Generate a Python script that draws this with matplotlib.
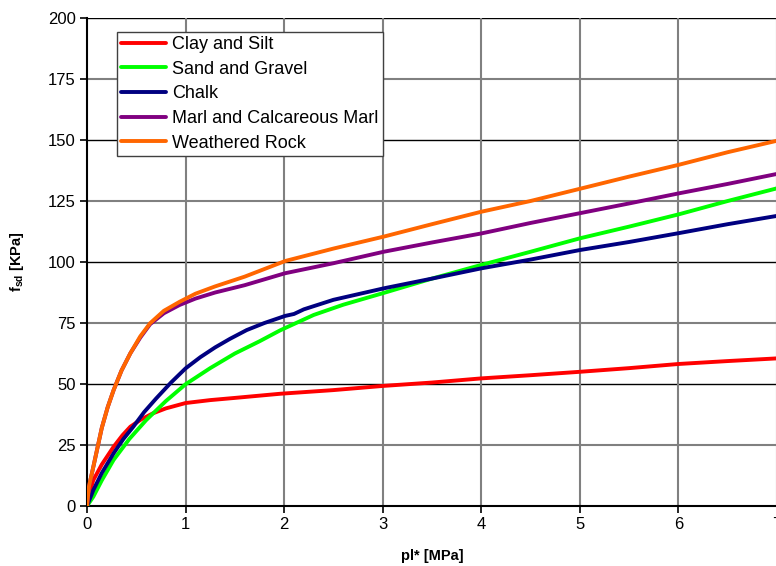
import matplotlib
matplotlib.use("Agg")
import matplotlib.pyplot as plt

plt.rcParams['font.family'] = ['Liberation Sans', 'DejaVu Sans']

labels = ["Clay and Silt", "Sand and Gravel", "Chalk",
          "Marl and Calcareous Marl", "Weathered Rock"]
colors = ["#FF0000", "#00FF00", "#000080", "#800080", "#FF6600"]

clay_x = [0, 0.03, 0.064, 0.15, 0.27, 0.36, 0.44, 0.55, 0.67, 0.8, 1.0, 1.25,
          1.5, 1.96, 2.5, 3.0, 3.5, 4.0, 4.5, 5.0, 5.5, 6.0, 6.5, 7.0]
clay_y = [0, 6, 10.6, 17, 24.3, 29, 32.5, 35.5, 38, 40, 42.2, 43.4,
          44.3, 46.0, 47.5, 49.2, 50.6, 52.3, 53.6, 55.0, 56.5, 58.2, 59.4, 60.5]

sand_x = [0, 0.064, 0.15, 0.27, 0.43, 0.6, 0.8, 1.0, 1.25, 1.5, 1.75, 1.96,
          2.3, 2.6, 3.0, 3.5, 4.0, 4.5, 5.0, 5.5, 6.0, 6.5, 7.0]
sand_y = [0, 3.8, 10.5, 18.9, 27.5, 35.2, 43, 49.9, 56.5, 62.5, 67.5, 72,
          78.3, 82.5, 87.2, 93.2, 98.8, 104.2, 109.7, 114.5, 119.5, 125, 130.2]

chalk_x = [0, 0.064, 0.15, 0.27, 0.37, 0.47, 0.58, 0.7, 0.85, 1.0, 1.15, 1.3,
           1.45, 1.62, 1.8, 2.01, 2.1, 2.2, 2.5, 3.01, 3.5, 4.0, 4.5, 5.0,
           5.5, 6.0, 6.5, 7.0]
chalk_y = [0, 6.5, 13.5, 21.6, 27.5, 32.5, 38.5, 44, 50.5, 56.4, 61, 65,
           68.5, 72.1, 75, 77.9, 78.7, 80.6, 84.5, 89.2, 93.2, 97.4, 101, 104.9,
           108.2, 111.8, 115.5, 118.9]

marl_x = [0, 0.02, 0.064, 0.15, 0.21, 0.27, 0.35, 0.44, 0.54, 0.64, 0.78, 0.94,
          1.1, 1.3, 1.6, 2.01, 2.5, 3.01, 3.5, 4.0, 4.5, 5.0, 5.5, 6.0, 6.5, 7.0]
marl_y = [0, 8, 16, 32, 40.5, 47.5, 55.5, 62.6, 69, 74.5, 79, 82.4,
          85, 87.5, 90.5, 95.4, 99.5, 104.2, 108, 111.7, 116, 120, 124, 128.1,
          132, 136.1]

rock_x = [0, 0.02, 0.064, 0.15, 0.21, 0.27, 0.35, 0.44, 0.54, 0.64, 0.78, 0.94,
          1.1, 1.3, 1.6, 2.01, 2.5, 3.01, 3.5, 4.0, 4.5, 5.0, 5.5, 6.0, 6.5, 7.0]
rock_y = [0, 8, 16, 32, 40.5, 47.5, 55.5, 62.6, 69.5, 74.9, 80, 83.7,
          87, 90, 94, 100.4, 105.5, 110.4, 115.5, 120.6, 125, 130, 135, 139.8,
          145, 149.7]

x_ticks = [0, 1, 2, 3, 4, 5, 6, 7]
y_ticks = [0, 25, 50, 75, 100, 125, 150, 175, 200]

series = [(clay_x, clay_y), (sand_x, sand_y), (chalk_x, chalk_y),
          (marl_x, marl_y), (rock_x, rock_y)]

fig = plt.figure(figsize=(7.76, 5.66), dpi=100)
ax = fig.add_axes([87/776, 60/566, 690/776, 488/566])

# gridlines
for yv in y_ticks[1:]:
    c = 'black' if yv % 50 == 0 else '#808080'
    lw = 1.0 if yv % 50 == 0 else 1.5
    ax.axhline(yv, color=c, lw=lw, zorder=1)
for xv in x_ticks[1:]:
    ax.axvline(xv, color='#808080', lw=1.5, zorder=1)

for (xs, ys), lab, col in zip(series, labels, colors):
    ax.plot(xs, ys, color=col, lw=2.8, label=lab, zorder=3,
            solid_joinstyle='round', solid_capstyle='round')

ax.set_xlim(0, 7)
ax.set_ylim(0, 200)
ax.set_xticks(x_ticks)
ax.set_yticks(y_ticks)
ax.tick_params(axis='both', direction='out', length=5, width=1.2,
               labelsize=12, colors='black', pad=3)
for s in ['top', 'right']:
    ax.spines[s].set_visible(False)
for s in ['left', 'bottom']:
    ax.spines[s].set_linewidth(1.5)
    ax.spines[s].set_color('black')

ax.set_xlabel("pl* [MPa]", fontsize=10.5, fontweight='bold', labelpad=12)
ax.set_ylabel(r"f$_{\mathregular{sd}}$ [KPa]", fontsize=10.5,
              fontweight='bold', labelpad=16)

leg = ax.legend(loc='upper left', bbox_to_anchor=(0.043, 0.972),
                borderaxespad=0, fancybox=False, edgecolor='#404040',
                framealpha=1, fontsize=13, handlelength=2.5,
                labelspacing=0.42, handletextpad=0.3, borderpad=0.25)
leg.get_frame().set_linewidth(1.0)
leg.set_zorder(5)

fig.savefig("out.png", dpi=100)
